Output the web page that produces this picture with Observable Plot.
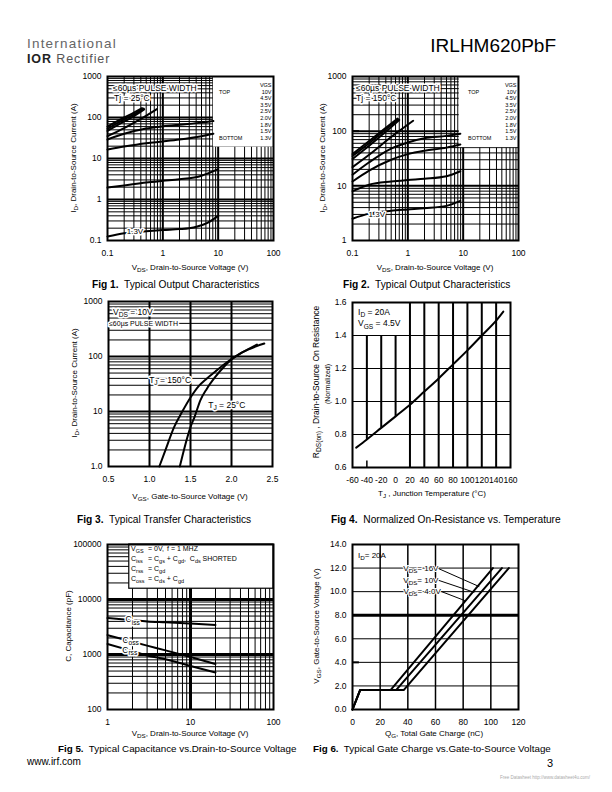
<!DOCTYPE html>
<html><head><meta charset="utf-8">
<script src="https://cdn.jsdelivr.net/npm/d3@7"></script>
<script src="https://cdn.jsdelivr.net/npm/@observablehq/plot@0.6"></script>
<style>
body{margin:0;background:#fff;}
#page{position:relative;width:612px;height:792px;overflow:hidden;background:#fff}
</style></head>
<body><div id="page"></div>
<script>
// ---------------- DATA ----------------
// Fig 1: Typical output characteristics, Tj = 25°C   [VDS (V), ID (A)]
const fig1_vgs = ["10V","4.5V","3.5V","2.5V","2.0V","1.8V","1.5V","1.3V"];
const fig1_10V = [[0.1,60],[0.2,100],[0.3,132],[0.42,170]];
const fig1_4V5 = [[0.1,53],[0.2,90],[0.3,120],[0.45,165]];
const fig1_3V5 = [[0.1,47],[0.2,80],[0.3,108],[0.46,158]];
const fig1_2V5 = [[0.1,35],[0.2,55],[0.4,92],[0.78,160]];
const fig1_2V0 = [[0.1,29],[0.2,40],[0.5,54],[1,61],[2,67],[5,75],[8.2,82]];
const fig1_1V8 = [[0.1,16.5],[0.2,19.5],[0.5,23.5],[1,26],[2,29],[5,35],[8.2,40]];
const fig1_1V5 = [[0.1,1.95],[0.2,2.2],[0.5,2.6],[1,2.85],[2,3.1],[5,3.8],[7,4.5],[10,5.5]];
const fig1_1V3 = [[0.1,0.125],[0.2,0.15],[0.5,0.168],[1,0.18],[2,0.19],[3,0.2],[4.2,0.22],[6.4,0.27],[10,0.4]];
// Fig 2: Typical output characteristics, Tj = 150°C
const fig2_10V = [[0.1,38],[0.2,66],[0.4,115],[0.65,170]];
const fig2_4V5 = [[0.1,35],[0.2,60],[0.4,108],[0.68,165]];
const fig2_3V5 = [[0.1,31],[0.2,54],[0.4,98],[0.7,160]];
const fig2_2V5 = [[0.1,22],[0.2,37],[0.5,78],[1.25,155]];
const fig2_2V0 = [[0.1,16],[0.2,27],[0.5,48],[1,62],[2,74],[5,82],[8.9,90]];
const fig2_1V8 = [[0.1,12],[0.2,19],[0.5,30],[1,38],[2,44],[5,50],[8.9,57]];
const fig2_1V5 = [[0.1,8],[0.2,10.5],[0.5,12],[1,12.8],[2,13.5],[5,15],[8.9,18.5]];
const fig2_1V3 = [[0.1,2.5],[0.2,3.1],[0.5,3.5],[1,3.7],[2,3.9],[5,4.3],[8.9,5.3]];
const fig12_xticks = [0.1,1,10,100];
const fig1_yticks = [0.1,1,10,100,1000];
const fig2_yticks = [1,10,100,1000];
// Fig 3: Typical transfer characteristics [VGS (V), ID (A)]
const fig3_vgs_150 = [1.12,1.2,1.3,1.4,1.5,1.6,1.7,1.8,1.9,2.0,2.1,2.2,2.31];
const fig3_id_150  = [1,2.1,5.2,10,18,29,40,53,70,90,112,135,165];
const fig3_vgs_25  = [1.37,1.42,1.5,1.55,1.62,1.7,1.8,1.9,2.0,2.1,2.2,2.3,2.4];
const fig3_id_25   = [1,2,5.2,8,16,26,42,63,88,112,133,153,172];
const fig3_xticks = [0.5,1.0,1.5,2.0,2.5];
const fig3_yticks = [1,10,100,1000];
// Fig 4: Normalized on-resistance vs temperature
const fig4_tj = [-55,-40,-20,0,20,40,60,80,100,120,140,150];
const fig4_r  = [0.72,0.77,0.84,0.91,0.98,1.06,1.14,1.225,1.31,1.40,1.49,1.545];
const fig4_xticks = [-60,-40,-20,0,20,40,60,80,100,120,140,160];
const fig4_yticks = [0.6,0.8,1.0,1.2,1.4,1.6];
// Fig 5: Capacitance vs VDS
const fig5_vds  = [1,2,3,5,10,20];
const fig5_ciss = [4600,4200,4000,3850,3650,3450];
const fig5_coss = [2250,1700,1450,1190,900,670];
const fig5_crss = [1550,1150,960,820,620,470];
const fig5_xticks = [1,10,100];
const fig5_yticks = [100,1000,10000,100000];
// Fig 6: Gate charge  [QG (nC), VGS (V)]
const fig6_q_4V  = [0,5.5,27.5,101.5];
const fig6_q_10V = [0,5.5,31.5,108];
const fig6_q_16V = [0,5.5,37,113];
const fig6_vgs   = [0,1.65,1.65,12];
const fig6_xticks = [0,20,40,60,80,100,120];
const fig6_yticks = [0,2,4,6,8,10,12,14];

// ---------------- HELPERS ----------------
const FONT = '"Liberation Sans", Arial, Helvetica, sans-serif';
const page = document.getElementById("page");
const ov = d3.select(page).append("svg").attr("width",612).attr("height",792)
  .style("position","absolute").style("left","0px").style("top","0px").style("z-index",10).style("overflow","visible");

const fmt = d => String(d);
const pairs = a => a.map(([x,y]) => ({x,y}));
const zip = (xs, ys) => xs.map((x,i) => ({x, y: ys[i]}));
function decadesIn(lo, hi){ const o=[]; for(let e=Math.ceil(Math.log10(lo)-1e-9); 10**e <= hi*1.0001; e++){ const v=10**e; if(v>lo*1.0001 && v<hi*0.9999) o.push(v);} return o; }
function minorsIn(lo, hi){ const o=[]; for(let e=Math.floor(Math.log10(lo)); 10**e < hi; e++){ for(let k=2;k<10;k++){ const v=k*10**e; if(v>lo*1.0001 && v<hi*0.9999) o.push(v);} } return o; }

function parts(s){ const out=[]; const re=/_\{([^}]*)\}/g; let last=0, m; while((m=re.exec(s))){ if(m.index>last) out.push([s.slice(last,m.index),false]); out.push([m[1],true]); last=re.lastIndex;} if(last<s.length) out.push([s.slice(last),false]); return out; }
function txt(px, py, str, o={}){
  const size=o.size||8, rot=o.rotate||0;
  const t = ov.append("text").attr("transform",`translate(${px},${py}) rotate(${rot})`)
    .attr("y", size*0.35).attr("font-size",size).attr("font-family",o.family||FONT)
    .attr("text-anchor",o.anchor||"start").attr("fill",o.fill||"#000").style("white-space","pre");
  if (o.weight) t.attr("font-weight",o.weight);
  if (o.halo) t.attr("stroke","#fff").attr("stroke-width",o.halo===true?3:o.halo).attr("paint-order","stroke").attr("stroke-linejoin","round");
  const sh = size*0.28; let down=false;
  for (const [s,isSub] of parts(str)){
    const ts = t.append("tspan").text(s);
    if (isSub){ ts.attr("font-size",size*0.78); if(!down){ts.attr("dy",sh); down=true;} }
    else if (down){ ts.attr("dy",-sh); down=false; }
  }
  return t;
}
function scaleFn(plot, name){
  const s = plot.scale(name);
  if (s && typeof s.apply === "function") return v => s.apply(v);
  const d = (s.type === "log" ? d3.scaleLog() : d3.scaleLinear()).domain(s.domain).range(s.range);
  return v => d(v);
}
function at(plot, x, y){ return [plot._left + scaleFn(plot,"x")(x), plot._top + scaleFn(plot,"y")(y)]; }
function dtxt(plot, x, y, str, o){ const [px,py]=at(plot,x,y); return txt(px,py,str,o); }

function makeChart(frame, opts){
  const [fx0,fy0,fx1,fy1] = frame;
  const pad = {l:60,t:10,r:16,b:24};
  const plot = Plot.plot({
    width: fx1-fx0+pad.l+pad.r, height: fy1-fy0+pad.t+pad.b,
    marginLeft:pad.l, marginRight:pad.r, marginTop:pad.t, marginBottom:pad.b,
    style:{fontFamily:FONT, fontSize:"8.5px", background:"transparent", overflow:"visible", color:"#000"},
    ...opts
  });
  plot._left = fx0-pad.l; plot._top = fy0-pad.t;
  plot.style.position="absolute"; plot.style.left=plot._left+"px"; plot.style.top=plot._top+"px";
  page.appendChild(plot);
  return plot;
}
const axX = (ticks, extra={}) => ({ticks, tickFormat:fmt, tickSize:0, tickPadding:9, label:null, ...extra});
const axY = (ticks, extra={}) => ({ticks, tickFormat:fmt, tickSize:0, tickPadding:6, label:null, ...extra});
const curve = (data, w=2, c="monotone-x") => Plot.line(data, {x:"x", y:"y", stroke:"#000", strokeWidth:w, curve:c});
function logGrid(xlo,xhi,ylo,yhi, majorW=2){
  return [
    Plot.ruleX(minorsIn(xlo,xhi), {stroke:"#000", strokeWidth:1}),
    Plot.ruleX(decadesIn(xlo,xhi), {stroke:"#000", strokeWidth:majorW}),
    Plot.ruleY(minorsIn(ylo,yhi), {stroke:"#000", strokeWidth:1}),
    Plot.ruleY(decadesIn(ylo,yhi), {stroke:"#000", strokeWidth:majorW})
  ];
}
const whiteBox = (x1,x2,y1,y2, stroke=null) => Plot.rect([{x1,x2,y1,y2}], {x1:"x1",x2:"x2",y1:"y1",y2:"y2", fill:"#fff", stroke: stroke||"none", strokeWidth:1.2});

// ---------------- FIG 1 ----------------
const f1 = makeChart([107,76,273,240], {
  x:{type:"log", domain:[0.1,100], ...axX(fig12_xticks)},
  y:{type:"log", domain:[0.1,1000], ...axY(fig1_yticks)},
  marks:[
    ...logGrid(0.1,100,0.1,1000),
    whiteBox(8.2,100,19,1000),
    ...[fig1_10V,fig1_4V5,fig1_3V5,fig1_2V5,fig1_2V0,fig1_1V8,fig1_1V5,fig1_1V3].map(a=>curve(pairs(a))),
    Plot.frame({stroke:"#000", strokeWidth:2})
  ]
});
// ---------------- FIG 2 ----------------
const f2 = makeChart([352,76,518,240], {
  x:{type:"log", domain:[0.1,100], ...axX(fig12_xticks)},
  y:{type:"log", domain:[1,1000], ...axY(fig2_yticks)},
  marks:[
    ...logGrid(0.1,100,1,1000),
    whiteBox(8.5,100,50,1000),
    Plot.ruleY([100], {x1:0.1, x2:0.135, stroke:"#000", strokeWidth:2}),
    ...[fig2_10V,fig2_4V5,fig2_3V5,fig2_2V5,fig2_2V0,fig2_1V8,fig2_1V5,fig2_1V3].map(a=>curve(pairs(a))),
    Plot.frame({stroke:"#000", strokeWidth:2})
  ]
});
// ---------------- FIG 3 ----------------
const f3 = makeChart([108,301,272,466], {
  x:{type:"linear", domain:[0.5,2.5], ...axX(fig3_xticks, {tickFormat:d=>d.toFixed(1)})},
  y:{type:"log", domain:[1,1000], ...axY(fig3_yticks, {tickFormat:d=>d===1?"1.0":String(d)})},
  marks:[
    Plot.ruleY(minorsIn(1,1000), {stroke:"#000", strokeWidth:1}),
    Plot.ruleY(decadesIn(1,1000), {stroke:"#000", strokeWidth:2}),
    Plot.ruleX([1.0,1.5,2.0], {stroke:"#000", strokeWidth:2}),
    curve(zip(fig3_vgs_150, fig3_id_150)),
    curve(zip(fig3_vgs_25, fig3_id_25)),
    Plot.frame({stroke:"#000", strokeWidth:2})
  ]
});
// ---------------- FIG 4 ----------------
const fig4_rAt = t => fig4_r[fig4_tj.indexOf(t)];
const f4 = makeChart([352,302,510,467], {
  x:{type:"linear", domain:[-60,160], ...axX(fig4_xticks)},
  y:{type:"linear", domain:[0.6,1.6], ...axY(fig4_yticks, {tickFormat:d=>d.toFixed(1)})},
  marks:[
    Plot.ruleY([0.8,1.0,1.2,1.4], {stroke:"#000", strokeWidth:1}),
    Plot.ruleX([20,40,60,80,100,120,140], {stroke:"#000", strokeWidth:2}),
    Plot.ruleX([-40,-20,0], {x:d=>d, y1:d=>fig4_rAt(d), y2:1.4, stroke:"#000", strokeWidth:2}),
    Plot.ruleX([-40], {x:d=>d, y1:0.6, y2:0.64, stroke:"#000", strokeWidth:1.5}),
    curve(zip(fig4_tj, fig4_r)),
    Plot.frame({stroke:"#000", strokeWidth:2})
  ]
});
// ---------------- FIG 5 ----------------
const f5 = makeChart([107,544,273,709], {
  x:{type:"log", domain:[1,100], ...axX(fig5_xticks)},
  y:{type:"log", domain:[100,100000], ...axY(fig5_yticks)},
  marks:[
    ...logGrid(1,100,100,100000,3),
    whiteBox(1.83,100,15700,100000,"#000"),
    curve(zip(fig5_vds, fig5_ciss)),
    curve(zip(fig5_vds, fig5_coss)),
    curve(zip(fig5_vds, fig5_crss)),
    Plot.frame({stroke:"#000", strokeWidth:2})
  ]
});
// ---------------- FIG 6 ----------------
const fig6_pointers = [
  [{x:62.5,y:11.94},{x:91.4,y:10.44}],
  [{x:62.5,y:10.95},{x:87.8,y:9.95}],
  [{x:64.2,y:10.01},{x:81.0,y:9.25}]
];
const f6 = makeChart([352,544,518,709], {
  x:{type:"linear", domain:[0,120], ...axX(fig6_xticks)},
  y:{type:"linear", domain:[0,14], ...axY(fig6_yticks, {tickFormat:d=>d.toFixed(1)})},
  marks:[
    Plot.ruleX([20,40,60,80,100], {stroke:"#000", strokeWidth:1.5}),
    Plot.ruleY([2,4,6,10,12], {stroke:"#000", strokeWidth:1}),
    Plot.ruleY([8], {stroke:"#000", strokeWidth:3}),
    Plot.ruleY([4], {x1:0, x2:5, stroke:"#000", strokeWidth:2}),
    curve(zip(fig6_q_4V, fig6_vgs), 2, "linear"),
    curve(zip(fig6_q_10V, fig6_vgs), 2, "linear"),
    curve(zip(fig6_q_16V, fig6_vgs), 2, "linear"),
    ...fig6_pointers.map(p => Plot.line(p, {x:"x", y:"y", stroke:"#000", strokeWidth:1})),
    Plot.frame({stroke:"#000", strokeWidth:2})
  ]
});

// ---------------- TEXT ----------------
// header
txt(27,43.5,"International",{size:13.5, fill:"#666"}).attr("letter-spacing","1.2");
{ const t = ov.append("text").attr("x",27).attr("y",62.5).attr("font-family",FONT).attr("font-size",12.5).attr("fill","#555").attr("letter-spacing","0.9");
  t.append("tspan").attr("font-weight","bold").attr("fill","#222").text("IOR");
  t.append("tspan").text(" Rectifier"); }
txt(556,45,"IRLHM620PbF",{size:19, anchor:"end"});
// footer
txt(27,761,"www.irf.com",{size:10});
txt(553,763,"3",{size:11, anchor:"end"});
txt(500,777,"Free Datasheet http://www.datasheet4u.com/",{size:4.5, fill:"#aaa"});

// Fig 1 annotations
txt(113,88,"\u226460\u00b5s PULSE WIDTH",{size:8.5, halo:true});
txt(114,98,"Tj = 25\u00b0C",{size:8.5, halo:true});
dtxt(f1,0.32,0.165,"1.3V",{size:8, anchor:"middle", halo:true});
function vgsLegend(left, right, top){
  txt(right,top,"VGS",{size:5.5, anchor:"end"});
  fig1_vgs.forEach((v,i)=>txt(right, top+6.6*(i+1), v, {size:5.5, anchor:"end"}));
  txt(left, top+6.6, "TOP", {size:5.5});
  txt(left, top+6.6*8, "BOTTOM", {size:5.5});
}
vgsLegend(219,271.5,85);
// Fig 2 annotations
txt(356,88,"\u226460\u00b5s PULSE WIDTH",{size:8.5, halo:true});
txt(356,98,"Tj = 150\u00b0C",{size:8.5, halo:true});
dtxt(f2,0.28,3.0,"1.3V",{size:8, anchor:"middle", halo:true});
vgsLegend(468,516.5,85);
// Fig 3 annotations
txt(113,312,"V_{DS} = 10V",{size:8.5, halo:true});
txt(109,323.5,"\u226460\u00b5s PULSE WIDTH",{size:7, halo:true});
dtxt(f3,1.002,36.6,"T_{J} = 150\u00b0C",{size:8.5, halo:true});
dtxt(f3,1.722,12.9,"T_{J} = 25\u00b0C",{size:8.5, halo:true});
// Fig 4 annotations
txt(358,312,"I_{D} = 20A",{size:8.5});
txt(358,323.5,"V_{GS} = 4.5V",{size:8.5});
// Fig 5 annotations
[[548.3,"V_{GS}","= 0V,"],[558.3,"C_{iss}","= C_{gs} + C_{gd},  C_{ds} SHORTED"],[568.3,"C_{rss}","= C_{gd}"],[578.3,"C_{oss}","= C_{ds} + C_{gd}"]]
  .forEach(([y,a,b])=>{ txt(131,y,a,{size:7}); txt(148,y,b,{size:7}); });
txt(167,548.3,"f = 1 MHZ",{size:7});
dtxt(f5,2.04,4240,"C_{iss}",{size:8.5, anchor:"middle", halo:true});
dtxt(f5,1.93,1800,"C_{oss}",{size:8.5, anchor:"middle", halo:true});
dtxt(f5,1.88,1180,"C_{rss}",{size:8.5, anchor:"middle", halo:true});
// Fig 6 annotations
txt(358,555,"I_{D}= 20A",{size:8});
dtxt(f6,62.5,11.94,"V_{DS}= 16V",{size:8, anchor:"end", halo:2});
dtxt(f6,62.5,10.95,"V_{DS}= 10V",{size:8, anchor:"end", halo:2});
dtxt(f6,64.2,10.01,"V_{DS}= 4.0V",{size:8, anchor:"end", halo:2});

// axis titles
txt(190,267,"V_{DS}, Drain-to-Source Voltage (V)",{size:8, anchor:"middle"});
txt(73,158,"I_{D}, Drain-to-Source Current (A)",{size:8, anchor:"middle", rotate:-90});
txt(435,267,"V_{DS}, Drain-to-Source Voltage (V)",{size:8, anchor:"middle"});
txt(322,158,"I_{D}, Drain-to-Source Current (A)",{size:8, anchor:"middle", rotate:-90});
txt(190,496,"V_{GS}, Gate-to-Source Voltage (V)",{size:8, anchor:"middle"});
txt(74,383,"I_{D}, Drain-to-Source Current (A)",{size:8, anchor:"middle", rotate:-90});
txt(432,493,"T_{J} , Junction Temperature (\u00b0C)",{size:8, anchor:"middle"});
txt(316,382,"R_{DS(on)} , Drain-to-Source On Resistance",{size:8.5, anchor:"middle", rotate:-90});
txt(328,384,"(Normalized)",{size:7, anchor:"middle", rotate:-90});
txt(190,733,"V_{DS}, Drain-to-Source Voltage (V)",{size:8, anchor:"middle"});
txt(68,626,"C, Capacitance (pF)",{size:8, anchor:"middle", rotate:-90});
txt(434,733,"Q_{G}, Total Gate Charge (nC)",{size:8, anchor:"middle"});
txt(316,626,"V_{GS}, Gate-to-Source Voltage (V)",{size:8, anchor:"middle", rotate:-90});

// captions
function caption(x,y,num,rest,size=10.2){
  const t = ov.append("text").attr("x",x).attr("y",y+3.5).attr("font-family",FONT).attr("font-size",size).style("white-space","pre");
  t.append("tspan").attr("font-weight","bold").text(num);
  t.append("tspan").text("  "+rest);
}
caption(92,284,"Fig 1.","Typical Output Characteristics");
caption(343,284,"Fig 2.","Typical Output Characteristics");
caption(77,519,"Fig 3.","Typical Transfer Characteristics");
caption(331,519,"Fig 4.","Normalized On-Resistance vs. Temperature");
caption(58,748,"Fig 5.","Typical Capacitance vs.Drain-to-Source Voltage",9.8);
caption(313,748,"Fig 6.","Typical Gate Charge vs.Gate-to-Source Voltage",9.8);
</script>
</body></html>
